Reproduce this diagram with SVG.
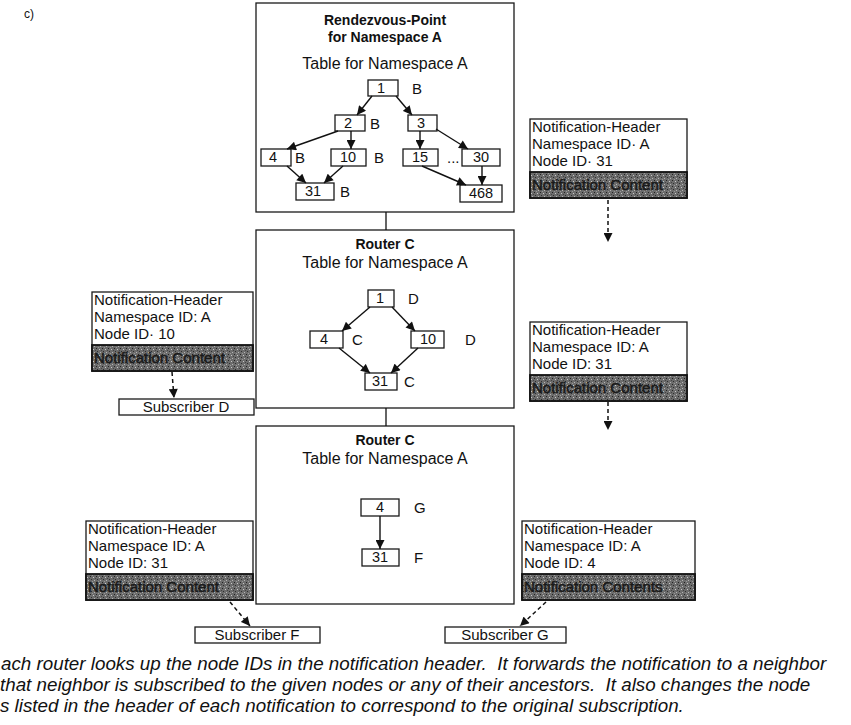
<svg xmlns="http://www.w3.org/2000/svg" width="851" height="725" viewBox="0 0 851 725">
<defs>
<style>
text{font-family:"Liberation Sans",Arial,sans-serif;fill:#111}
.box{fill:#fff;stroke:#1a1a1a;stroke-width:1.3}
.nb{fill:#fff;stroke:#1a1a1a;stroke-width:1.3}
.lbl{font-size:15px}
.title{font-size:14px;font-weight:bold;text-anchor:middle}
.sub{font-size:16px;text-anchor:middle}
.num{font-size:14.5px;text-anchor:middle}
.ntxt{font-size:15px}
.bar{fill:url(#speck);stroke:#111;stroke-width:1.8}
.btxt{font-size:15px;fill:#1a1a1a;stroke:#1a1a1a;stroke-width:0.5}
.arr{stroke:#111;stroke-width:1.4;fill:none;marker-end:url(#ah)}
.dash{stroke:#111;stroke-width:1.5;fill:none;stroke-dasharray:4 3;marker-end:url(#ah)}
.conn{stroke:#111;stroke-width:1.3}
.cap{font-size:18.8px;font-style:italic;white-space:pre}
</style>
<marker id="ah" viewBox="0 0 10 10" refX="10" refY="5" markerWidth="10" markerHeight="9" markerUnits="userSpaceOnUse" orient="auto">
<path d="M0,0 L10,5 L0,10 z" fill="#111"/>
</marker>
<pattern id="speck" width="6" height="6" patternUnits="userSpaceOnUse">
<rect width="6" height="6" fill="#6c6c6c"/>
<rect x="0" y="0" width="1" height="1" fill="#222"/>
<rect x="3" y="1" width="1" height="1" fill="#c8c8c8"/>
<rect x="1" y="3" width="1" height="1" fill="#2e2e2e"/>
<rect x="4" y="4" width="1" height="1" fill="#b4b4b4"/>
<rect x="5" y="2" width="1" height="1" fill="#444"/>
<rect x="2" y="5" width="1" height="1" fill="#999"/>
</pattern>
</defs>
<rect width="851" height="725" fill="#fff"/>
<text x="24" y="18" font-size="12">c)</text>

<g id="rendezvous">
<rect class="box" x="256" y="3" width="258" height="209"/>
<text class="title" x="385" y="25">Rendezvous-Point</text>
<text class="title" x="385" y="42">for Namespace A</text>
<text class="sub" x="385" y="69">Table for Namespace A</text>
<rect class="nb" x="368" y="80" width="30" height="16"/><text class="num" x="381" y="93">1</text><text class="lbl" x="412" y="94">B</text>
<rect class="nb" x="335" y="115" width="30" height="16"/><text class="num" x="348" y="128">2</text><text class="lbl" x="370" y="129">B</text>
<rect class="nb" x="408" y="115" width="29" height="16"/><text class="num" x="421" y="128">3</text>
<rect class="nb" x="261" y="149" width="30" height="17"/><text class="num" x="273" y="162">4</text><text class="lbl" x="295" y="163">B</text>
<rect class="nb" x="331" y="149" width="35" height="17"/><text class="num" x="348" y="162">10</text><text class="lbl" x="374" y="163">B</text>
<rect class="nb" x="403" y="149" width="35" height="17"/><text class="num" x="420" y="162">15</text>
<text class="lbl" x="447" y="163">...</text>
<rect class="nb" x="462" y="149" width="38" height="17"/><text class="num" x="481" y="162">30</text>
<rect class="nb" x="296" y="183" width="38" height="17"/><text class="num" x="313" y="196">31</text><text class="lbl" x="340" y="197">B</text>
<rect class="nb" x="460" y="185" width="42" height="17"/><text class="num" x="481" y="198">468</text>
</g>

<g id="router-c-1">
<rect class="box" x="256" y="230" width="258" height="178"/>
<text class="title" x="385" y="249">Router C</text>
<text class="sub" x="385" y="268">Table for Namespace A</text>
<rect class="nb" x="368" y="290" width="26" height="17"/><text class="num" x="380" y="303">1</text><text class="lbl" x="408" y="304">D</text>
<rect class="nb" x="310" y="331" width="33" height="17"/><text class="num" x="324" y="344">4</text><text class="lbl" x="352" y="345">C</text>
<rect class="nb" x="411" y="331" width="33" height="17"/><text class="num" x="428" y="344">10</text><text class="lbl" x="465" y="345">D</text>
<rect class="nb" x="365" y="373" width="32" height="17"/><text class="num" x="380" y="386">31</text><text class="lbl" x="404" y="387">C</text>
</g>

<g id="router-c-2">
<rect class="box" x="256" y="426" width="258" height="178"/>
<text class="title" x="385" y="445">Router C</text>
<text class="sub" x="385" y="464">Table for Namespace A</text>
<rect class="nb" x="361" y="499" width="38" height="17"/><text class="num" x="380" y="512">4</text><text class="lbl" x="414" y="513">G</text>
<rect class="nb" x="362" y="549" width="37" height="17"/><text class="num" x="380" y="562">31</text><text class="lbl" x="414" y="563">F</text>
</g>

<g id="notif-rp">
<rect class="box" x="530" y="119" width="157" height="79"/>
<text class="ntxt" x="532" y="132">Notification-Header</text>
<text class="ntxt" x="532" y="149">Namespace ID· A</text>
<text class="ntxt" x="532" y="166">Node ID· 31</text>
<rect class="bar" x="530" y="172" width="157" height="26"/>
<text class="btxt" x="532" y="190">Notification Content</text>
</g>

<g id="notif-d">
<rect class="box" x="92" y="292" width="161" height="79"/>
<text class="ntxt" x="94" y="305">Notification-Header</text>
<text class="ntxt" x="94" y="322">Namespace ID: A</text>
<text class="ntxt" x="94" y="339">Node ID· 10</text>
<rect class="bar" x="92" y="345" width="161" height="26"/>
<text class="btxt" x="94" y="363">Notification Content</text>
</g>

<g id="subscriber-d">
<rect class="box" x="119" y="399" width="135" height="16"/>
<text class="ntxt" x="186" y="412" text-anchor="middle">Subscriber D</text>
</g>

<g id="notif-c">
<rect class="box" x="530" y="322" width="157" height="79"/>
<text class="ntxt" x="532" y="335">Notification-Header</text>
<text class="ntxt" x="532" y="352">Namespace ID: A</text>
<text class="ntxt" x="532" y="369">Node ID: 31</text>
<rect class="bar" x="530" y="375" width="157" height="26"/>
<text class="btxt" x="532" y="393">Notification Content</text>
</g>

<g id="notif-f">
<rect class="box" x="86" y="521" width="167" height="79"/>
<text class="ntxt" x="88" y="534">Notification-Header</text>
<text class="ntxt" x="88" y="551">Namespace ID: A</text>
<text class="ntxt" x="88" y="568">Node ID: 31</text>
<rect class="bar" x="86" y="574" width="167" height="26"/>
<text class="btxt" x="88" y="592">Notification Content</text>
</g>

<g id="subscriber-f">
<rect class="box" x="195" y="627" width="125" height="16"/>
<text class="ntxt" x="257" y="640" text-anchor="middle">Subscriber F</text>
</g>

<g id="notif-g">
<rect class="box" x="522" y="521" width="173" height="79"/>
<text class="ntxt" x="524" y="534">Notification-Header</text>
<text class="ntxt" x="524" y="551">Namespace ID: A</text>
<text class="ntxt" x="524" y="568">Node ID: 4</text>
<rect class="bar" x="522" y="574" width="173" height="26"/>
<text class="btxt" x="524" y="592">Notification Contents</text>
</g>

<g id="subscriber-g">
<rect class="box" x="445" y="627" width="121" height="16"/>
<text class="ntxt" x="505" y="640" text-anchor="middle">Subscriber G</text>
</g>

<g id="connectors">
<line class="conn" x1="386" y1="212" x2="386" y2="230"/>
<line class="conn" x1="386" y1="408" x2="386" y2="426"/>
<line class="arr" x1="372" y1="96" x2="357" y2="115"/>
<line class="arr" x1="396" y1="96" x2="412" y2="115"/>
<line class="arr" x1="338" y1="131" x2="287" y2="149"/>
<line class="arr" x1="351" y1="131" x2="351" y2="149"/>
<line class="arr" x1="420" y1="131" x2="420" y2="149"/>
<line class="arr" x1="436" y1="129" x2="468" y2="149"/>
<line class="arr" x1="287" y1="166" x2="306" y2="183"/>
<line class="arr" x1="343" y1="166" x2="324" y2="183"/>
<line class="arr" x1="422" y1="166" x2="466" y2="185"/>
<line class="arr" x1="482" y1="166" x2="482" y2="185"/>
<line class="arr" x1="370" y1="307" x2="342" y2="331"/>
<line class="arr" x1="392" y1="307" x2="415" y2="331"/>
<line class="arr" x1="339" y1="348" x2="370" y2="373"/>
<line class="arr" x1="418" y1="348" x2="391" y2="373"/>
<line class="arr" x1="380" y1="516" x2="380" y2="549"/>
<line class="dash" x1="608" y1="200" x2="608" y2="242"/>
<line class="dash" x1="172" y1="372" x2="174" y2="398"/>
<line class="dash" x1="608" y1="402" x2="608" y2="430"/>
<line class="dash" x1="230" y1="602" x2="250" y2="626"/>
<line class="dash" x1="546" y1="602" x2="520" y2="626"/>
</g>

<g id="caption">
<text class="cap" x="1" y="670">ach router looks up the node IDs in the notification header.  It forwards the notification to a neighbor</text>
<text class="cap" x="0" y="691">that neighbor is subscribed to the given nodes or any of their ancestors.  It also changes the node</text>
<text class="cap" x="0" y="712">s listed in the header of each notification to correspond to the original subscription.</text>
</g>
</svg>
